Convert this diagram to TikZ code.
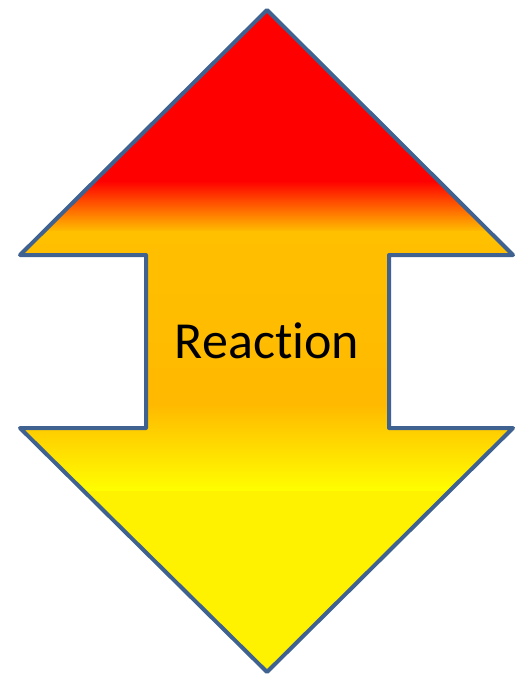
\documentclass[tikz,border=0pt]{standalone}
\usepackage{fontspec}
\setmainfont[RawFeature=-liga]{Carlito}
\definecolor{edge}{HTML}{3F6290}
\definecolor{gold}{HTML}{FFC000}
\definecolor{deepgold}{HTML}{FFB900}
\tikzset{
  outline/.style={draw=edge,line width=4pt,line join=round},
  label/.style={font=\fontsize{52}{60}\selectfont,text=black,inner sep=0pt,anchor=base}
}
\begin{document}
\begin{tikzpicture}[x=1pt,y=-1pt]
\useasboundingbox (0,0) rectangle (519,677);
\def\arrowpath{(267,10) -- (513,255) -- (389,255) -- (389,428) -- (513,428) -- (267,672) -- (20,428) -- (146,428) -- (146,255) -- (20,255) -- cycle}
\begin{scope}
  \clip \arrowpath;
  \fill[red] (0,0) rectangle (519,182);
  \shade[top color=red,bottom color=gold] (0,181) rectangle (519,232);
  \shade[top color=gold,bottom color=deepgold] (0,231) rectangle (519,405);
  \shade[top color=deepgold,bottom color=yellow] (0,404) rectangle (519,492);
  \fill[yellow] (0,491) rectangle (519,677);
\end{scope}
\draw[outline] \arrowpath;
\node[label] (lbl) at (267,358) {Reaction};
\end{tikzpicture}
\end{document}
